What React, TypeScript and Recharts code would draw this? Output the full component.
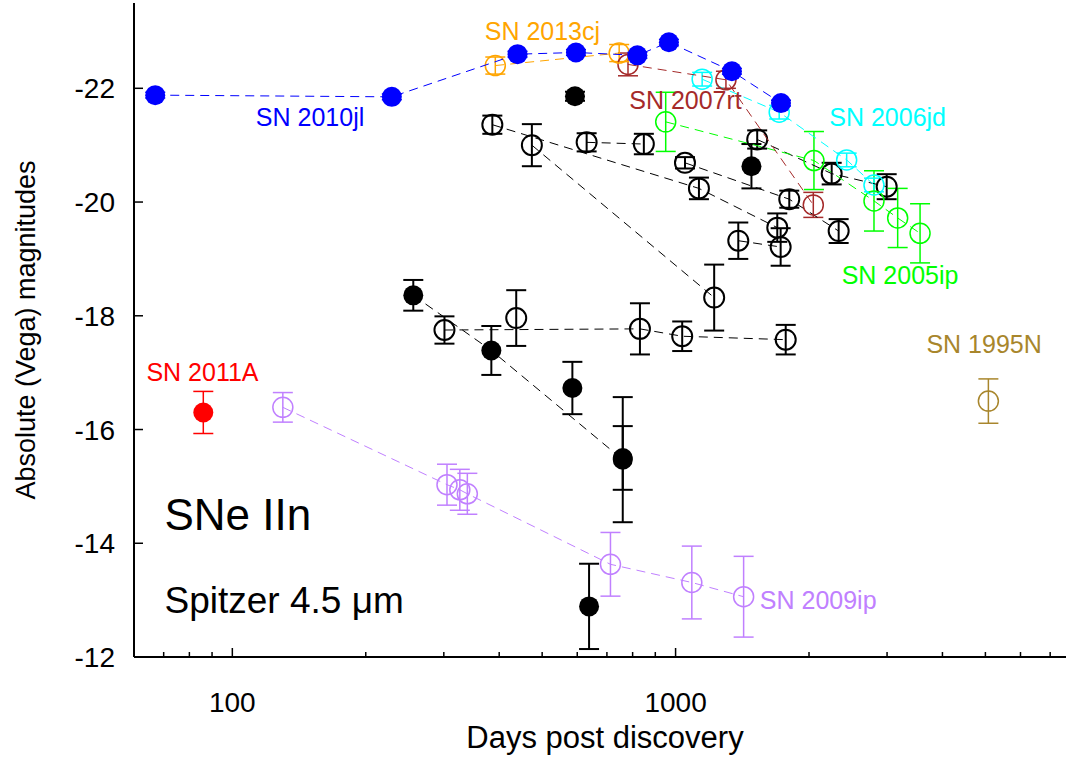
import { ErrorBar, ReferenceDot, Scatter, ScatterChart, XAxis, YAxis } from 'recharts';

// Spitzer 4.5um light curves of SNe IIn (days post discovery vs absolute mag)
const sn2010jlDays = [67, 229, 440, 596, 820, 966, 1340, 1729];
const sn2010jlMag = [-21.88, -21.85, -22.6, -22.63, -22.58, -22.81, -22.3, -21.74];
const sn2010jlErr = [0.05, 0.05, 0.05, 0.05, 0.05, 0.05, 0.05, 0.05];

const sn2013cjDays = [392, 746];
const sn2013cjMag = [-22.4, -22.62];
const sn2013cjErr = [0.15, 0.15];

const sn2007rtDays = [781, 1299, 2045];
const sn2007rtMag = [-22.42, -22.15, -19.95];
const sn2007rtErr = [0.2, 0.15, 0.22];

const sn2006jdDays = [1148, 1713, 2432, 2803];
const sn2006jdMag = [-22.16, -21.58, -20.74, -20.3];
const sn2006jdErr = [0.12, 0.12, 0.12, 0.12];

const sn2005ipDays = [950, 2052, 2803, 3170, 3561];
const sn2005ipMag = [-21.41, -20.73, -20.02, -19.72, -19.45];
const sn2005ipErr = [0.52, 0.51, 0.53, 0.52, 0.52];

const sn2011aDays = [86];
const sn2011aMag = [-16.3];
const sn2011aErr = [0.37];

const sn2009ipDays = [130, 305, 326, 339, 713, 1088, 1424];
const sn2009ipMag = [-16.39, -15.03, -14.94, -14.87, -13.63, -13.31, -13.06];
const sn2009ipErr = [0.26, 0.36, 0.36, 0.36, 0.56, 0.64, 0.71];

const sn1995nDays = [5078];
const sn1995nMag = [-16.5];
const sn1995nErr = [0.39];

// other SNe IIn (black), open symbols
const blkADays = [386, 1129, 1696];
const blkAMag = [-21.36, -20.24, -19.55];
const blkAErr = [0.16, 0.19, 0.25];

const blkBDays = [474, 1222];
const blkBMag = [-21.0, -18.32];
const blkBErr = [0.37, 0.58];

const blkCDays = [630, 848];
const blkCMag = [-21.05, -21.02];
const blkCErr = [0.16, 0.18];

const blkEDays = [1050, 1805, 2333];
const blkEMag = [-20.69, -20.05, -19.49];
const blkEErr = [0.1, 0.15, 0.21];

const blkGDays = [1528, 2250, 2994];
const blkGMag = [-21.1, -20.5, -20.27];
const blkGErr = [0.16, 0.19, 0.22];

const blkLDays = [1385, 1726];
const blkLMag = [-19.32, -19.21];
const blkLErr = [0.32, 0.33];

const blkSDays = [301, 831, 1035, 1772];
const blkSMag = [-17.75, -17.77, -17.64, -17.58];
const blkSErr = [0.24, 0.45, 0.26, 0.26];

const blkSingleDays = [437];
const blkSingleMag = [-17.96];
const blkSingleErr = [0.49];

// black filled symbols
const blkTDays = [256, 384, 760, 760];
const blkTMag = [-18.36, -17.39, -15.47, -15.5];
const blkTErr = [0.27, 0.43, 1.1, 0.56];

const blkFilledDays = [593, 1483, 585, 638];
const blkFilledMag = [-21.86, -20.63, -16.73, -12.89];
const blkFilledErr = [0.08, 0.39, 0.46, 0.75];

// annotations
const labelText = ['SN 2010jl', 'SN 2013cj', 'SN 2007rt', 'SN 2006jd', 'SN 2005ip', 'SN 1995N', 'SN 2011A', 'SN 2009ip'];
const labelDays = [113, 371, 786, 2222, 2370, 3681, 64, 1549];
const labelMag = [-21.33, -22.85, -21.64, -21.33, -18.56, -17.34, -16.86, -12.85];

const xTicks = [70, 80, 90, 100, 200, 300, 400, 500, 600, 700, 800, 900, 1000, 2000, 3000, 4000, 5000, 6000, 7000];
const xMajor = [100, 1000];
const yTicks = [-22, -20, -18, -16, -14, -12];

const blue = '#0000ff';
const orange = '#ffa500';
const brown = '#a52a2a';
const cyan = '#00ffff';
const green = '#00ff00';
const red = '#ff0000';
const lilac = '#c080ff';
const gold = '#a8862c';
const black = '#000000';
const labelColors = [blue, orange, brown, cyan, green, gold, red, lilac];

const font = '"Liberation Sans", Arial, Helvetica, sans-serif';

const pts = (d: number[], m: number[], e: number[]) => d.map((x, i) => ({ x, y: m[i], e: e[i] }));

const openDot = (color: string, w = 1.5) => (p: any) => (
  <circle cx={p.cx} cy={p.cy} r={10} fill="none" stroke={color} strokeWidth={w} />
);
const fullDot = (color: string) => (p: any) => <circle cx={p.cx} cy={p.cy} r={10} fill={color} />;

const dash = (color: string) => ({ stroke: color, strokeWidth: 1, strokeDasharray: '9 6' });

function BottomTick({ x, y, payload }: any) {
  const major = xMajor.includes(payload.value);
  return (
    <g>
      <line x1={x} x2={x} y1={y} y2={y - (major ? 9 : 5)} stroke={black} strokeWidth={1.5} />
      {major && (
        <text x={x} y={y + 55} textAnchor="middle" fontSize={28} fontFamily={font} fill={black}>
          {payload.value}
        </text>
      )}
    </g>
  );
}

function TopTick({ x, y, payload }: any) {
  const major = xMajor.includes(payload.value);
  return <line x1={x} x2={x} y1={y} y2={y + (major ? 9 : 5)} stroke={black} strokeWidth={1.5} />;
}

function LeftTick({ x, y, payload }: any) {
  return (
    <g>
      <line x1={x} x2={x + 9} y1={y} y2={y} stroke={black} strokeWidth={1.5} />
      <text x={x - 19} y={y} dy="0.36em" textAnchor="end" fontSize={28} fontFamily={font} fill={black}>
        {payload.value}
      </text>
    </g>
  );
}

function RightTick({ x, y }: any) {
  return <line x1={x} x2={x - 9} y1={y} y2={y} stroke={black} strokeWidth={1.5} />;
}

const series = [
  { data: pts(blkADays, blkAMag, blkAErr), color: black, filled: false, line: true },
  { data: pts(blkBDays, blkBMag, blkBErr), color: black, filled: false, line: true },
  { data: pts(blkCDays, blkCMag, blkCErr), color: black, filled: false, line: true },
  { data: pts(blkEDays, blkEMag, blkEErr), color: black, filled: false, line: true },
  { data: pts(blkGDays, blkGMag, blkGErr), color: black, filled: false, line: true },
  { data: pts(blkLDays, blkLMag, blkLErr), color: black, filled: false, line: true },
  { data: pts(blkSDays, blkSMag, blkSErr), color: black, filled: false, line: true },
  { data: pts(blkSingleDays, blkSingleMag, blkSingleErr), color: black, filled: false, line: false },
  { data: pts(blkTDays, blkTMag, blkTErr), color: black, filled: true, line: true },
  { data: pts(blkFilledDays, blkFilledMag, blkFilledErr), color: black, filled: true, line: false },
  { data: pts(sn2009ipDays, sn2009ipMag, sn2009ipErr), color: lilac, filled: false, line: true },
  { data: pts(sn2011aDays, sn2011aMag, sn2011aErr), color: red, filled: true, line: false },
  { data: pts(sn1995nDays, sn1995nMag, sn1995nErr), color: gold, filled: false, line: false },
  { data: pts(sn2005ipDays, sn2005ipMag, sn2005ipErr), color: green, filled: false, line: true },
  { data: pts(sn2006jdDays, sn2006jdMag, sn2006jdErr), color: cyan, filled: false, line: true },
  { data: pts(sn2007rtDays, sn2007rtMag, sn2007rtErr), color: brown, filled: false, line: true },
  { data: pts(sn2013cjDays, sn2013cjMag, sn2013cjErr), color: orange, filled: false, line: true },
  { data: pts(sn2010jlDays, sn2010jlMag, sn2010jlErr), color: blue, filled: true, line: true },
];

export default function App() {
  return (
    <div style={{ position: 'absolute', left: 0, top: 0, background: '#fff' }}>
      <ScatterChart width={1068} height={757} margin={{ top: 3, right: 2, bottom: 0, left: 0 }}>
        <XAxis
          dataKey="x"
          type="number"
          scale="log"
          domain={[60, 7600]}
          allowDataOverflow
          ticks={xTicks}
          interval={0}
          height={100}
          tickLine={false}
          tickSize={0}
          tickMargin={0}
          tick={<BottomTick />}
          axisLine={{ stroke: black, strokeWidth: 2 }}
          label={(p: any) => {
            const vb = p.viewBox;
            return (
              <text x={vb.x + vb.width / 2 + 5} y={vb.y + 91} textAnchor="middle" fontSize={31} fontFamily={font} fill={black}>
                Days post discovery
              </text>
            );
          }}
        />
        <XAxis
          xAxisId="top"
          orientation="top"
          dataKey="x"
          type="number"
          scale="log"
          domain={[60, 7600]}
          allowDataOverflow
          ticks={xTicks}
          interval={0}
          height={0}
          tickLine={false}
          tickSize={0}
          tickMargin={0}
          tick={<TopTick />}
          axisLine={{ stroke: black, strokeWidth: 2 }}
        />
        <YAxis
          dataKey="y"
          type="number"
          domain={[-23.5, -12]}
          reversed
          allowDataOverflow
          ticks={yTicks}
          interval={0}
          width={134}
          tickLine={false}
          tickSize={0}
          tickMargin={0}
          tick={<LeftTick />}
          axisLine={{ stroke: black, strokeWidth: 2 }}
          label={(p: any) => {
            const vb = p.viewBox;
            const cx = vb.x + 25;
            const cy = vb.y + vb.height / 2;
            return (
              <text x={cx} y={cy} dy="0.36em" textAnchor="middle" transform={`rotate(-90, ${cx}, ${cy})`} fontSize={27} fontFamily={font} fill={black}>
                Absolute (Vega) magnitudes
              </text>
            );
          }}
        />
        <YAxis
          yAxisId="right"
          orientation="right"
          type="number"
          domain={[-23.5, -12]}
          reversed
          allowDataOverflow
          ticks={yTicks}
          interval={0}
          width={0}
          tickLine={false}
          tickSize={0}
          tickMargin={0}
          tick={<RightTick />}
          axisLine={{ stroke: black, strokeWidth: 2 }}
        />
        {series.map((s, i) => (
          <Scatter
            key={i}
            data={s.data}
            isAnimationActive={false}
            shape={s.filled ? fullDot(s.color) : openDot(s.color, s.color === black ? 2 : 1.5)}
            line={s.line ? dash(s.color) : false}
            lineType="joint"
          >
            <ErrorBar dataKey="e" direction="y" width={10} stroke={s.color} strokeWidth={s.color === black ? 2 : 1.5} />
          </Scatter>
        ))}
        {labelText.map((t, i) => (
          <ReferenceDot
            key={t}
            x={labelDays[i]}
            y={labelMag[i]}
            r={0}
            shape={(p: any) => (
              <text x={p.cx} y={p.cy} fontSize={25} fontFamily={font} fill={labelColors[i]}>
                {t}
              </text>
            )}
          />
        ))}
        <ReferenceDot
          x={70.3}
          y={-14.23}
          r={0}
          shape={(p: any) => (
            <text x={p.cx} y={p.cy} fontSize={44} fontFamily={font} fill={black}>
              SNe IIn
            </text>
          )}
        />
        <ReferenceDot
          x={70.3}
          y={-12.78}
          r={0}
          shape={(p: any) => (
            <text x={p.cx} y={p.cy} fontSize={37} fontFamily={font} fill={black}>
              Spitzer 4.5 μm
            </text>
          )}
        />
      </ScatterChart>
    </div>
  );
}
